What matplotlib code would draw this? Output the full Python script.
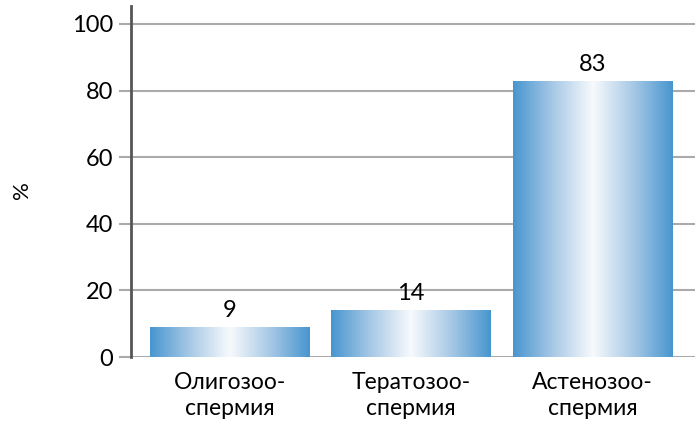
import matplotlib
matplotlib.use("Agg")
import matplotlib.pyplot as plt
import numpy as np
from matplotlib.colors import LinearSegmentedColormap

plt.rcParams['font.family'] = ['Lato', 'DejaVu Sans']

categories = ["Олигозоо-\nспермия", "Тератозоо-\nспермия", "Астенозоо-\nспермия"]
values = [9, 14, 83]
yticks = [0, 20, 40, 60, 80, 100]

fig = plt.figure(figsize=(6.99, 4.22), dpi=100)
ax = fig.add_axes([0.1874, 0.154, 0.8069, 0.8318])

x = np.arange(len(categories))
bars = ax.bar(x, values, width=0.88, facecolor='none', edgecolor='none', zorder=3)

# horizontal blue -> white -> blue gradient inside each bar
cmap = LinearSegmentedColormap.from_list("bar", ["#4896cf", "#a8c9e6", "#f7fafd", "#a8c9e6", "#4896cf"])
grad = np.linspace(0, 1, 256).reshape(1, -1)
for rect in bars:
    x0, w, h = rect.get_x(), rect.get_width(), rect.get_height()
    im = ax.imshow(grad, cmap=cmap, aspect='auto', extent=[x0, x0 + w, 0, h],
                   zorder=3, interpolation='bicubic')
    im.set_clip_path(rect)
    ax.text(x0 + w / 2, h + 1.8, str(int(h)), ha='center', va='bottom', fontsize=17, zorder=4)

ax.set_xlim(-0.543, 2.565)
ax.set_ylim(0, 105.4)
ax.set_yticks(yticks)
ax.set_xticks(x)
ax.set_xticklabels(categories, fontsize=16.5, linespacing=1.25)
ax.tick_params(axis='x', length=0, pad=11)
ax.tick_params(axis='y', length=9, width=1.5, color='#aaaaaa', labelsize=17, pad=4)
ax.yaxis.grid(True, color='#aaaaaa', linewidth=1.5)
ax.set_axisbelow(True)
for s in ['top', 'right', 'bottom']:
    ax.spines[s].set_visible(False)
ax.spines['left'].set_color('#555555')
ax.spines['left'].set_linewidth(2)
ax.spines['left'].set_zorder(5)
ax.set_ylabel("%", fontsize=16)
ax.yaxis.set_label_coords(-0.175, 0.476)

fig.savefig("out.png", dpi=100)
